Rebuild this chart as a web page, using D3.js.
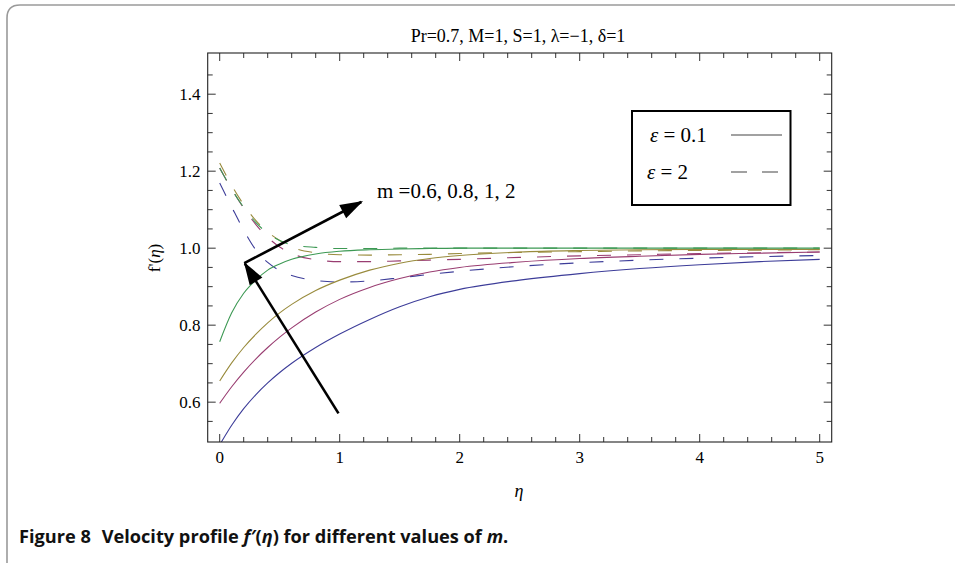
<!DOCTYPE html>
<html>
<head>
<meta charset="utf-8">
<script src="https://cdn.jsdelivr.net/npm/d3@7"></script>
<style>
  body { margin: 0; background: #fff; }
  svg { display: block; }
  .serif { font-family: "Liberation Serif", "Times New Roman", serif; }
</style>
</head>
<body>
<svg id="chart" width="955" height="563"></svg>
<script>
// data: f'(eta) for m = 0.6, 0.8, 1, 2
const eta = [0, 0.1, 0.2, 0.3, 0.4, 0.5, 0.6, 0.8, 1.0, 1.25, 1.5, 1.75, 2, 2.5, 3, 3.5, 4, 4.5, 5];
const mValues = [0.6, 0.8, 1, 2];

// epsilon = 0.1 (solid)
const solidM06 = [0.489, 0.540, 0.583, 0.619, 0.650, 0.677, 0.701, 0.742, 0.777, 0.815, 0.848, 0.874, 0.893, 0.917, 0.934, 0.947, 0.957, 0.965, 0.971];
const solidM08 = [0.597, 0.640, 0.678, 0.712, 0.742, 0.769, 0.793, 0.834, 0.867, 0.898, 0.921, 0.938, 0.950, 0.964, 0.973, 0.979, 0.984, 0.987, 0.990];
const solidM1  = [0.655, 0.702, 0.742, 0.776, 0.806, 0.832, 0.854, 0.890, 0.917, 0.943, 0.961, 0.973, 0.981, 0.990, 0.994, 0.996, 0.997, 0.997, 0.997];
const solidM2  = [0.757, 0.832, 0.883, 0.917, 0.943, 0.959, 0.971, 0.985, 0.992, 0.996, 0.998, 0.999, 1.000, 1.000, 1.000, 1.000, 1.000, 1.000, 1.000];

// epsilon = 2 (dashed)
const dashM06 = [1.169, 1.107, 1.047, 0.996, 0.963, 0.942, 0.929, 0.916, 0.912, 0.915, 0.923, 0.932, 0.940, 0.953, 0.962, 0.969, 0.974, 0.978, 0.981];
const dashM08 = [1.208, 1.153, 1.104, 1.062, 1.028, 1.003, 0.986, 0.970, 0.965, 0.965, 0.967, 0.969, 0.971, 0.976, 0.980, 0.983, 0.986, 0.988, 0.990];
const dashM1  = [1.221, 1.163, 1.113, 1.072, 1.042, 1.020, 1.003, 0.988, 0.983, 0.982, 0.983, 0.984, 0.986, 0.989, 0.991, 0.993, 0.994, 0.995, 0.996];
const dashM2  = [1.208, 1.153, 1.106, 1.067, 1.039, 1.020, 1.009, 1.002, 0.999, 0.999, 1.000, 1.000, 1.000, 1.000, 1.000, 1.000, 1.000, 1.000, 1.000];

const xTicks = [0, 1, 2, 3, 4, 5];
const yTicks = [0.6, 0.8, 1.0, 1.2, 1.4];
const legendLabels = ['0.1', '2'];

// mathematica default palette
const colors = ['#3d3d99', '#993d71', '#998b3d', '#3d9954'];

const svg = d3.select('#chart');

// plot box
const x = d3.scaleLinear().domain([-0.1, 5.1]).range([207.7, 831.7]);
const y = d3.scaleLinear().domain([0.4965, 1.507]).range([442, 53]);

// outer figure frame (rounded corner, left + top only visible)
svg.append('path')
  .attr('d', 'M7,563 V18 Q7,5 20,5 H955')
  .attr('fill', 'none')
  .attr('stroke', '#9a9a9a')
  .attr('stroke-width', 1.6);

const defs = svg.append('defs');
defs.append('clipPath').attr('id', 'plotClip')
  .append('rect')
  .attr('x', x.range()[0]).attr('y', y.range()[1])
  .attr('width', x.range()[1] - x.range()[0])
  .attr('height', y.range()[0] - y.range()[1]);

// minor ticks
const xMinor = d3.range(0, 5.01, 0.2).map(d => +d.toFixed(2)).filter(d => xTicks.indexOf(d) < 0);
const yMinor = d3.range(0.5, 1.501, 0.05).map(d => +d.toFixed(2)).filter(d => yTicks.indexOf(d) < 0 && d > 0.5 && d < 1.5);

const ticks = svg.append('g').attr('stroke', '#333').attr('stroke-width', 1);

function drawXTicks(vals, len) {
  vals.forEach(v => {
    ticks.append('line').attr('x1', x(v)).attr('x2', x(v))
      .attr('y1', y.range()[0]).attr('y2', y.range()[0] - len);
    ticks.append('line').attr('x1', x(v)).attr('x2', x(v))
      .attr('y1', y.range()[1]).attr('y2', y.range()[1] + len);
  });
}
function drawYTicks(vals, len) {
  vals.forEach(v => {
    ticks.append('line').attr('y1', y(v)).attr('y2', y(v))
      .attr('x1', x.range()[0]).attr('x2', x.range()[0] + len);
    ticks.append('line').attr('y1', y(v)).attr('y2', y(v))
      .attr('x1', x.range()[1]).attr('x2', x.range()[1] - len);
  });
}
drawXTicks(xTicks, 8);
drawXTicks(xMinor, 5);
drawYTicks(yTicks, 8);
drawYTicks(yMinor, 5);

// tick labels
svg.append('g')
  .selectAll('text').data(xTicks).join('text')
  .attr('class', 'serif')
  .attr('x', d => x(d)).attr('y', 463)
  .attr('text-anchor', 'middle')
  .attr('font-size', 17)
  .text(d => d);

svg.append('g')
  .selectAll('text').data(yTicks).join('text')
  .attr('class', 'serif')
  .attr('x', 200.5).attr('y', d => y(d) + 6)
  .attr('text-anchor', 'end')
  .attr('font-size', 17)
  .text(d => d.toFixed(1));

// curves
const line = d3.line()
  .x(d => x(d[0]))
  .y(d => y(d[1]))
  .curve(d3.curveMonotoneX);

const solidSeries = [solidM06, solidM08, solidM1, solidM2];
const dashSeries = [dashM06, dashM08, dashM1, dashM2];

const curves = svg.append('g').attr('clip-path', 'url(#plotClip)').attr('fill', 'none');

dashSeries.forEach((vals, i) => {
  curves.append('path')
    .attr('d', line(eta.map((e, j) => [e, vals[j]])))
    .attr('stroke', colors[i])
    .attr('stroke-width', 1.1)
    .attr('stroke-dasharray', '14,16');
});
solidSeries.forEach((vals, i) => {
  curves.append('path')
    .attr('d', line(eta.map((e, j) => [e, vals[j]])))
    .attr('stroke', colors[i])
    .attr('stroke-width', 1.1);
});

// frame
svg.append('rect')
  .attr('x', x.range()[0]).attr('y', y.range()[1])
  .attr('width', x.range()[1] - x.range()[0])
  .attr('height', y.range()[0] - y.range()[1])
  .attr('fill', 'none')
  .attr('stroke', '#222')
  .attr('stroke-width', 1.1);

// title
svg.append('text').attr('class', 'serif')
  .attr('x', 518).attr('y', 42)
  .attr('text-anchor', 'middle')
  .attr('font-size', 18)
  .text('Pr=0.7, M=1, S=1, \u03BB=\u22121, \u03B4=1');

// axis labels
svg.append('text').attr('class', 'serif')
  .attr('transform', 'translate(160,258) rotate(-90)')
  .attr('text-anchor', 'middle')
  .attr('font-size', 17)
  .html("f'(<tspan font-style='italic'>\u03B7</tspan>)");

svg.append('text').attr('class', 'serif')
  .attr('x', 519).attr('y', 497)
  .attr('text-anchor', 'middle')
  .attr('font-size', 18)
  .attr('font-style', 'italic')
  .text('\u03B7');

// arrows
defs.append('marker')
  .attr('id', 'head')
  .attr('markerUnits', 'userSpaceOnUse')
  .attr('viewBox', '-22 -8 24 16')
  .attr('refX', 0).attr('refY', 0)
  .attr('markerWidth', 24).attr('markerHeight', 16)
  .attr('orient', 'auto')
  .append('path')
  .attr('d', 'M2,0 L-21,-7.5 L-21,7.5 Z')
  .attr('fill', '#000');

const arrows = [
  { from: [0.205, 0.961], to: [1.18, 1.12] },
  { from: [0.99, 0.571], to: [0.21, 0.96] }
];
arrows.forEach(a => {
  svg.append('line')
    .attr('x1', x(a.from[0])).attr('y1', y(a.from[1]))
    .attr('x2', x(a.to[0])).attr('y2', y(a.to[1]))
    .attr('stroke', '#000')
    .attr('stroke-width', 2.6)
    .attr('marker-end', 'url(#head)');
});

svg.append('text').attr('class', 'serif')
  .attr('x', 377).attr('y', 198)
  .attr('font-size', 21)
  .text('m =' + mValues.join(', '));

// legend
const lg = svg.append('g');
lg.append('rect')
  .attr('x', 632).attr('y', 111)
  .attr('width', 158.5).attr('height', 94)
  .attr('fill', '#fff')
  .attr('stroke', '#000')
  .attr('stroke-width', 2);

const legendRows = [{ y: 135, dash: null }, { y: 172, dash: '16,15' }];
legendRows.forEach((r, i) => {
  lg.append('text').attr('class', 'serif')
    .attr('x', i === 0 ? 650 : 647).attr('y', r.y + 7)
    .attr('font-size', 21)
    .html("<tspan font-style='italic'>\u03B5</tspan> = " + legendLabels[i]);
  const l = lg.append('line')
    .attr('x1', 731).attr('x2', 778 + (i === 0 ? 4 : 0))
    .attr('y1', r.y).attr('y2', r.y)
    .attr('stroke', '#444')
    .attr('stroke-width', 1.2);
  if (r.dash) l.attr('stroke-dasharray', r.dash);
});

// caption
svg.append('text')
  .attr('x', 19).attr('y', 543)
  .attr('font-family', '"Open Sans", Lato, sans-serif')
  .attr('font-weight', 'bold')
  .attr('font-size', 18.2)
  .attr('fill', '#111')
  .html("Figure 8 <tspan dx='6'>Velocity profile </tspan><tspan font-style='italic'>f\u2032</tspan>(<tspan font-style='italic'>\u03B7</tspan>) for different values of <tspan font-style='italic'>m</tspan>.");
</script>
</body>
</html>
